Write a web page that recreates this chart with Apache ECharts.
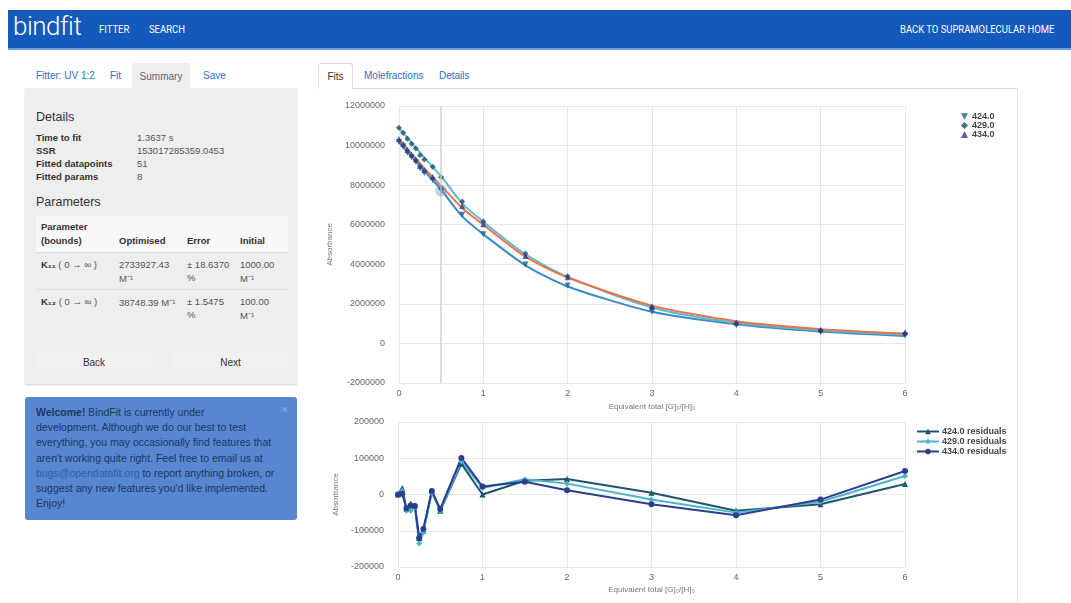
<!DOCTYPE html>
<html>
<head>
<meta charset="utf-8">
<script src="https://cdn.jsdelivr.net/npm/echarts@6/dist/echarts.min.js"></script>
<style>
  body { margin: 0; width: 1071px; height: 603px; overflow: hidden; background: #fff;
         font-family: "Liberation Sans", Arial, sans-serif; color: #333; position: relative; }
  .abs { position: absolute; white-space: nowrap; }
  .nav { left: 8px; top: 10px; width: 1063px; height: 38px; background: #1459bc; border-bottom: 2px solid #6f9be0; }
  .brand { left: 13px; top: 11px; font: 300 26px Roboto, sans-serif; color: #fff; letter-spacing: -0.5px; }
  .navlink { top: 23px; font: 11px Roboto, sans-serif; color: #fff; transform: scaleX(0.86); transform-origin: left center; }
  .tab { font-size: 10px; color: #2a6fcf; top: 70px; }
  .panel { left: 25px; top: 88px; width: 272px; height: 296px; background: #eee; box-shadow: 0 1px 2px rgba(0,0,0,.18); }
  .lbl { font-size: 9.5px; font-weight: bold; color: #333; left: 36px; }
  .val { font-size: 9.5px; color: #555; left: 137px; }
  .th { font-size: 9.5px; font-weight: bold; color: #333; }
  .td { font-size: 9.5px; color: #555; }
  .btn { top: 352px; height: 22px; background: #f0f0f0; font-size: 10px; color: #333; text-align: center; line-height: 22px; }
  .alert { left: 25px; top: 397px; width: 272px; height: 123px; background: #5687d0; border-radius: 3px; }
  .alert-text { left: 36px; top: 405px; font-size: 10.5px; line-height: 15.2px; color: #1d3763; }
  #chart { position: absolute; left: 318px; top: 89px; width: 699px; height: 514px; }
</style>
</head>
<body>
<div class="abs nav"></div>
<div class="abs brand">bindfit</div>
<div class="abs navlink" style="left:99px">FITTER</div>
<div class="abs navlink" style="left:149px">SEARCH</div>
<div class="abs navlink" style="left:900px">BACK TO SUPRAMOLECULAR HOME</div>

<!-- left column -->
<div class="abs tab" style="left:36px">Fitter: UV 1:2</div>
<div class="abs tab" style="left:110px">Fit</div>
<div class="abs" style="left:132px;top:63px;width:58px;height:26px;background:#eee;border-radius:3px 3px 0 0;font-size:10px;color:#666;text-align:center;line-height:27px">Summary</div>
<div class="abs tab" style="left:203px">Save</div>
<div class="abs panel"></div>
<div class="abs" style="left:36px;top:110px;font-size:12.5px;color:#333">Details</div>
<div class="abs lbl" style="top:132px">Time to fit</div><div class="abs val" style="top:132px">1.3637 s</div>
<div class="abs lbl" style="top:145px">SSR</div><div class="abs val" style="top:145px">153017285359.0453</div>
<div class="abs lbl" style="top:158px">Fitted datapoints</div><div class="abs val" style="top:158px">51</div>
<div class="abs lbl" style="top:171px">Fitted params</div><div class="abs val" style="top:171px">8</div>
<div class="abs" style="left:36px;top:195px;font-size:12.5px;color:#333">Parameters</div>
<div class="abs" style="left:36px;top:216px;width:252px;height:36px;background:#f8f8f8;box-shadow:0 1px 1px rgba(0,0,0,.08)"></div>
<div class="abs th" style="left:41px;top:221px">Parameter</div>
<div class="abs th" style="left:41px;top:235px">(bounds)</div>
<div class="abs th" style="left:119px;top:235px">Optimised</div>
<div class="abs th" style="left:187px;top:235px">Error</div>
<div class="abs th" style="left:240px;top:235px">Initial</div>
<div class="abs th" style="left:41px;top:259px">K₁₁ <span style="font-weight:normal;color:#555">( 0 → ∞ )</span></div>
<div class="abs td" style="left:119px;top:259px">2733927.43</div><div class="abs td" style="left:119px;top:272px">M⁻¹</div>
<div class="abs td" style="left:187px;top:259px">± 18.6370</div><div class="abs td" style="left:187px;top:272px">%</div>
<div class="abs td" style="left:240px;top:259px">1000.00</div><div class="abs td" style="left:240px;top:272px">M⁻¹</div>
<div class="abs" style="left:36px;top:289px;width:252px;height:1px;background:#ddd"></div>
<div class="abs th" style="left:41px;top:296px">K₁₂ <span style="font-weight:normal;color:#555">( 0 → ∞ )</span></div>
<div class="abs td" style="left:119px;top:296px">38748.39 M⁻¹</div>
<div class="abs td" style="left:187px;top:296px">± 1.5475</div><div class="abs td" style="left:187px;top:309px">%</div>
<div class="abs td" style="left:240px;top:296px">100.00</div><div class="abs td" style="left:240px;top:309px">M⁻¹</div>
<div class="abs btn" style="left:36px;width:116px">Back</div>
<div class="abs btn" style="left:173px;width:115px">Next</div>

<div class="abs alert"></div>
<div class="abs alert-text"><b>Welcome!</b> BindFit is currently under<br>development. Although we do our best to test<br>everything, you may occasionally find features that<br>aren't working quite right. Feel free to email us at<br><span style="color:#2a5fb8">bugs@opendatafit.org</span> to report anything broken, or<br>suggest any new features you'd like implemented.<br>Enjoy!</div>
<div class="abs" style="left:281px;top:403px;font-size:12px;color:#8aaee4">×</div>

<!-- right column tabs -->
<div class="abs" style="left:318px;top:63px;width:33px;height:25px;background:#fff;border:1px solid #ddd;border-bottom:none;border-radius:3px 3px 0 0;font-size:10px;color:#333;text-align:center;line-height:25px">Fits</div>
<div class="abs tab" style="left:364px">Molefractions</div>
<div class="abs tab" style="left:439px">Details</div>
<div class="abs" style="left:352px;top:88px;width:665px;height:1px;background:#ddd"></div>
<div class="abs" style="left:1017px;top:88px;width:1px;height:515px;background:#e6e6e6"></div>

<div id="chart"></div>

<script>
// guest equivalents
const xEq = [0, 0.05, 0.1, 0.15, 0.2, 0.25, 0.3, 0.4, 0.5, 0.75, 1, 1.5, 2, 3, 4, 5, 6];

// observed absorbance
const obs424 = [10180000, 9948000, 9640000, 9415000, 9170000, 8840000, 8620000, 8260000, 7735000, 6505000, 5520000, 3988000, 2923000, 1605000, 925000, 573000, 399000];
const obs429 = [10900000, 10650000, 10345000, 10095000, 9855000, 9505000, 9295000, 8925000, 8405000, 7172000, 6168000, 4542000, 3390000, 1806000, 990000, 640000, 491000];
const obs434 = [10330000, 10082000, 9792000, 9550000, 9308000, 8980000, 8765000, 8410000, 7920000, 6951000, 6022000, 4415000, 3342000, 1883000, 1063000, 706000, 565000];

// fitted curves
const fit424 = [10180000, 9930000, 9680000, 9440000, 9200000, 8960000, 8720000, 8250000, 7780000, 6420000, 5520000, 3950000, 2880000, 1600000, 970000, 600000, 370000];
const fit429 = [10900000, 10640000, 10390000, 10140000, 9890000, 9640000, 9400000, 8920000, 8450000, 7080000, 6150000, 4500000, 3360000, 1820000, 1040000, 660000, 440000];
const fit434 = [10330000, 10080000, 9830000, 9580000, 9340000, 9100000, 8860000, 8400000, 7960000, 6850000, 6000000, 4380000, 3330000, 1910000, 1120000, 720000, 500000];

// residuals
const res424 = [0, 18000, -40000, -25000, -30000, -120000, -100000, 10000, -45000, 85000, 0, 38000, 43000, 5000, -45000, -27000, 29000];
const res429 = [0, 10000, -45000, -45000, -35000, -135000, -105000, 5000, -45000, 92000, 18000, 42000, 30000, -14000, -50000, -20000, 51000];
const res434 = [0, 2000, -38000, -30000, -32000, -120000, -95000, 10000, -40000, 101000, 22000, 35000, 12000, -27000, -57000, -14000, 65000];

const pairs = (ys) => xEq.map((x, i) => [x, ys[i]]);

const FONT = "Liberation Sans";
const TRI_DOWN = "path://M0,0 L10,0 L5,9 Z";
const axisLabel = { fontSize: 9, color: "#666", fontFamily: FONT, formatter: (v) => String(v) };
const split = { show: true, lineStyle: { color: "#e6e7ec", width: 1 } };

function xAx(idx) {
  return {
    gridIndex: idx, type: "value", min: 0, max: 6, interval: 1,
    axisLine: { show: false }, axisTick: { show: false }, splitLine: split,
    axisLabel: { ...axisLabel, margin: 6 },
    name: "Equivalent total [G]₀/[H]₀", nameLocation: "middle", nameGap: 19,
    nameTextStyle: { fontSize: 8, color: "#777", fontFamily: FONT },
  };
}
function yAx(idx, min, max, step, gap) {
  return {
    gridIndex: idx, type: "value", min: min, max: max, interval: step,
    axisLine: { show: false }, axisTick: { show: false }, splitLine: split,
    axisLabel: { ...axisLabel, margin: 14 },
    name: "Absorbance", nameLocation: "middle", nameGap: gap,
    nameTextStyle: { fontSize: 8, color: "#777", fontFamily: FONT },
  };
}

function fitLine(name, ys, color) {
  return {
    name: name, type: "line", xAxisIndex: 0, yAxisIndex: 0, data: pairs(ys),
    smooth: 0.25, showSymbol: false, silent: true,
    lineStyle: { color: color, width: 2 }, itemStyle: { color: color }, z: 2,
  };
}
function points(name, ys, symbol, color) {
  return {
    name: name, type: "scatter", xAxisIndex: 0, yAxisIndex: 0, data: pairs(ys),
    symbol: symbol, symbolSize: 6, itemStyle: { color: color }, z: 4,
  };
}
function resLine(name, ys, symbol, color) {
  return {
    name: name, type: "line", xAxisIndex: 1, yAxisIndex: 1, data: pairs(ys),
    symbol: symbol, symbolSize: 6, showAllSymbol: true,
    lineStyle: { color: color, width: 2 }, itemStyle: { color: color },
  };
}

const chart = echarts.init(document.getElementById("chart"));
const p424 = points("424.0", obs424, TRI_DOWN, "#1f5a7a");
p424.markLine = {
  silent: true, symbol: "none", label: { show: false },
  lineStyle: { color: "#cfd1d6", width: 1.5, type: "solid" },
  data: [{ xAxis: 0.5 }],
};
p424.markPoint = {
  symbol: "circle", symbolSize: 12, label: { show: false },
  itemStyle: { color: "rgba(120,150,175,0.4)" },
  data: [{ coord: [0.5, obs424[8]] }],
};

const legendText = { fontSize: 9, fontWeight: "bold", color: "#444", fontFamily: FONT, lineHeight: 9 };

chart.setOption({
  animation: false,
  grid: [
    { left: 80, right: 112, top: 17, height: 277 },
    { left: 80, right: 112, top: 333, height: 145 },
  ],
  xAxis: [xAx(0), xAx(1)],
  yAxis: [yAx(0, -2000000, 12000000, 2000000, 51), yAx(1, -200000, 200000, 100000, 44)],
  legend: [
    {
      data: ["424.0", "429.0", "434.0"], orient: "vertical", left: 643, top: 23,
      itemWidth: 7, itemHeight: 7, itemGap: 0, padding: 0,
      textStyle: { ...legendText, padding: [0, 0, 0, -1] },
    },
    {
      data: ["424.0 residuals", "429.0 residuals", "434.0 residuals"], orient: "vertical", left: 598, top: 338,
      itemWidth: 22, itemHeight: 7, itemGap: 1, padding: 0,
      textStyle: { ...legendText, padding: [0, 0, 0, -2] },
    },
  ],
  series: [
    fitLine("fit 424.0", fit424, "#3b8bcb"),
    fitLine("fit 429.0", fit429, "#5cbccb"),
    fitLine("fit 434.0", fit434, "#e8734f"),
    p424,
    points("429.0", obs429, "diamond", "#1b4c6b"),
    points("434.0", obs434, "triangle", "#2a3b8f"),
    resLine("424.0 residuals", res424, "triangle", "#1f5470"),
    resLine("429.0 residuals", res429, "diamond", "#4bb5c9"),
    resLine("434.0 residuals", res434, "circle", "#2c3d91"),
  ],
});
</script>
</body>
</html>
